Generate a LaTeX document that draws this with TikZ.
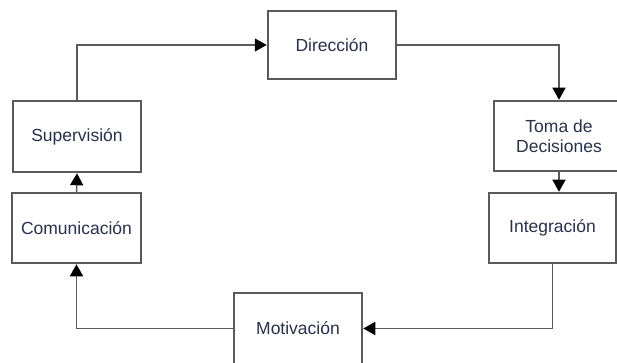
\documentclass[tikz,border=0pt]{standalone}
\usepackage{fontspec}
\setmainfont{Liberation Sans}
\usetikzlibrary{arrows.meta}
\definecolor{boxline}{HTML}{5A5A5A}
\definecolor{labeltext}{HTML}{28324A}
\tikzset{
  stage/.style={draw=boxline, line width=1.5pt, fill=white, rectangle,
    inner sep=0pt, text=labeltext, align=center,
    font=\fontsize{17.5}{20}\selectfont},
  flow/.style={draw=boxline, line width=1.5pt,
    -{Triangle[length=12pt,width=13pt,color=black]}, shorten >=0.5pt},
}
\begin{document}
\begin{tikzpicture}[x=1pt,y=-1pt]
  \useasboundingbox (0,0) rectangle (617,363);
  \fill[white] (0,0) rectangle (617,363);
  \clip (0,0) rectangle (617,363);

  % process stages
  \node[stage, minimum width=128pt, minimum height=68pt] (dir) at (332,45) {Dirección};
  \node[stage, minimum width=128pt, minimum height=71pt] (sup) at (77,136.5) {Supervisión};
  \node[stage, minimum width=129pt, minimum height=70pt] (com) at (76.5,228) {Comunicación};
  \node[stage, minimum width=130pt, minimum height=70pt] (tom) at (559,136) {Toma de\\Decisiones};
  \node[stage, minimum width=127pt, minimum height=70pt] (int) at (552.5,228) {Integración};
  \node[stage, minimum width=128pt, minimum height=71pt] (mot) at (298,328.5) {Motivación};

  % cycle connectors
  \draw[flow] (sup.north) |- (dir.west);
  \draw[flow] (dir.east) -| (tom.north);
  \draw[flow] (tom.south) -- (tom.south |- int.north);
  \draw[flow] (int.south) |- (mot.east);
  \draw[flow] (mot.west) -| (com.south);
  \draw[flow] (com.north) -- (sup.south);
\end{tikzpicture}
\end{document}
